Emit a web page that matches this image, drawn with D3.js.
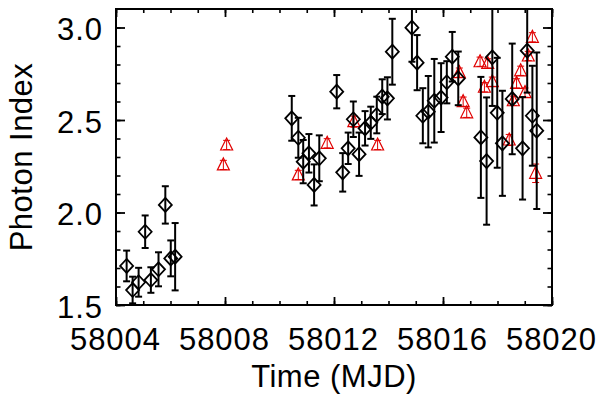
<!DOCTYPE html>
<html>
<head>
<meta charset="utf-8">
<script src="https://cdn.jsdelivr.net/npm/d3@7"></script>
<style>
  html, body { margin: 0; padding: 0; background: #fff; }
  svg { display: block; }
  text { font-family: "Liberation Sans", Arial, sans-serif; fill: #000; }
</style>
</head>
<body>
<div id="chart"></div>
<script>
// ---- Data ----
const diamondTime = [
  58004.39, 58004.61, 58004.83, 58005.07, 58005.28, 58005.56, 58005.81, 58006.01, 58006.17,
  58010.45, 58010.69, 58010.87, 58011.08, 58011.27, 58011.46, 58012.10, 58012.32, 58012.52,
  58012.71, 58012.92, 58013.14, 58013.35, 58013.57, 58013.77, 58013.96, 58014.14, 58014.86,
  58015.05, 58015.26, 58015.46, 58015.68, 58015.93, 58016.14, 58016.34, 58016.56,
  58017.39, 58017.60, 58017.81, 58017.99, 58018.18, 58018.54, 58018.92, 58019.09, 58019.28, 58019.44
];
const diamondIndex = [
  1.711, 1.581, 1.623, 1.896, 1.635, 1.693, 2.041, 1.752, 1.761,
  2.509, 2.404, 2.275, 2.320, 2.149, 2.293, 2.653, 2.217, 2.347,
  2.504, 2.315, 2.455, 2.485, 2.527, 2.626, 2.617, 2.869, 2.999,
  2.810, 2.523, 2.545, 2.604, 2.621, 2.704, 2.842, 2.725,
  2.406, 2.278, 2.839, 2.539, 2.374, 2.614, 2.347, 2.875, 2.523, 2.442
];
const diamondError = [
  0.083, 0.072, 0.078, 0.088, 0.069, 0.092, 0.101, 0.097, 0.182,
  0.121, 0.108, 0.117, 0.104, 0.111, 0.124, 0.090, 0.104, 0.085,
  0.096, 0.117, 0.093, 0.087, 0.099, 0.094, 0.114, 0.178, 0.184,
  0.149, 0.149, 0.193, 0.226, 0.186, 0.114, 0.134, 0.145,
  0.327, 0.344, 0.263, 0.297, 0.284, 0.299, 0.277, 0.227, 0.270, 0.423
];

const triangleTime = [
  58007.94, 58008.06, 58010.69, 58011.75, 58012.73, 58013.60,
  58016.60, 58016.74, 58016.87, 58017.36, 58017.64, 58017.52, 58017.81,
  58018.43, 58018.58, 58018.70, 58018.85, 58019.01, 58019.13, 58019.28, 58019.40
];
const triangleIndex = [
  2.257, 2.365, 2.203, 2.374, 2.491, 2.365,
  2.756, 2.599, 2.539, 2.815, 2.806, 2.677, 2.707,
  2.392, 2.604, 2.698, 2.766, 2.648, 2.846, 2.947, 2.212
];
const triangleError = [
  0.025, 0.025, 0.025, 0.025, 0.03, 0.025,
  0.025, 0.025, 0.025, 0.025, 0.025, 0.025, 0.025,
  0.03, 0.025, 0.025, 0.025, 0.025, 0.025, 0.025, 0.05
];

const xDomain = [58004, 58020];
const yDomain = [1.5, 3.1];
const xMajorTicks = [58004, 58008, 58012, 58016, 58020];
const yMajorTicks = [1.5, 2.0, 2.5, 3.0];
const xTitle = "Time (MJD)";
const yTitle = "Photon Index";

// ---- Layout ----
const W = 600, H = 396;
const L = 116, R = 552, T = 9, B = 305;
const FS = 31;

const svg = d3.select("#chart").append("svg")
  .attr("width", W).attr("height", H)
  .attr("viewBox", `0 0 ${W} ${H}`);
svg.append("rect").attr("width", W).attr("height", H).attr("fill", "#fff");

const x = d3.scaleLinear().domain(xDomain).range([L, R]);
const y = d3.scaleLinear().domain(yDomain).range([B, T]);

svg.append("defs").append("clipPath").attr("id", "plotclip")
  .append("rect").attr("x", L).attr("y", T).attr("width", R - L).attr("height", B - T);

const xMinor = d3.range(xDomain[0], xDomain[1] + 0.001, 1);
const yMinor = d3.range(15, 31, 1).map(v => v / 10);

function axisGroup(axisFn, scale, transform, major, minor, majLen, minLen, labels) {
  const gMin = svg.append("g").attr("transform", transform)
    .call(axisFn(scale).tickValues(minor).tickSize(minLen).tickFormat(""));
  gMin.select(".domain").remove();
  gMin.selectAll("line").attr("stroke", "#000").attr("stroke-width", 1.6);
  const g = svg.append("g").attr("transform", transform)
    .call(axisFn(scale).tickValues(major).tickSize(majLen).tickSizeOuter(0)
      .tickFormat(labels ? labels : ""));
  g.select(".domain").remove();
  g.selectAll("line").attr("stroke", "#000").attr("stroke-width", 1.8);
  return g;
}

const gb = axisGroup(d3.axisTop, x, `translate(0,${B})`, xMajorTicks, xMinor, 8, 4, d3.format("d"));
gb.selectAll("text")
  .attr("y", 45).attr("dy", 0)
  .attr("font-size", FS).attr("letter-spacing", 1).attr("text-anchor", "middle")
  .attr("dx", -1);
axisGroup(d3.axisBottom, x, `translate(0,${T})`, xMajorTicks, xMinor, 8, 4, null)
  .selectAll("text").remove();
const gl = axisGroup(d3.axisRight, y, `translate(${L},0)`, yMajorTicks, yMinor, 9, 4.5, d3.format(".1f"));
gl.selectAll("text")
  .attr("x", -13).attr("dy", "0.4em")
  .attr("font-size", FS).attr("letter-spacing", 1).attr("text-anchor", "end");
axisGroup(d3.axisLeft, y, `translate(${R},0)`, yMajorTicks, yMinor, 9, 4.5, null)
  .selectAll("text").remove();

svg.append("rect").attr("x", L).attr("y", T).attr("width", R - L).attr("height", B - T)
  .attr("fill", "none").attr("stroke", "#000").attr("stroke-width", 2);

svg.append("text").attr("x", (L + R) / 2).attr("y", 387)
  .attr("text-anchor", "middle").attr("font-size", FS).attr("letter-spacing", 0.5).text(xTitle);
svg.append("text")
  .attr("transform", `translate(32,${(T + B) / 2}) rotate(-90)`)
  .attr("text-anchor", "middle").attr("font-size", FS).attr("letter-spacing", 0.5).text(yTitle);

// ---- Marks ----
const plot = svg.append("g").attr("clip-path", "url(#plotclip)");

const diamonds = diamondTime.map((t, i) => ({ t, v: diamondIndex[i], e: diamondError[i] }));
const triangles = triangleTime.map((t, i) => ({ t, v: triangleIndex[i], e: triangleError[i] }));

function errorBars(data, color, capW, sw) {
  const g = plot.append("g").attr("stroke", color).attr("stroke-width", sw).attr("fill", "none");
  g.selectAll("line.v").data(data).join("line")
    .attr("x1", d => x(d.t)).attr("x2", d => x(d.t))
    .attr("y1", d => y(d.v + d.e)).attr("y2", d => y(d.v - d.e));
  g.selectAll("line.top").data(data).join("line").attr("class", "top")
    .attr("x1", d => x(d.t) - capW).attr("x2", d => x(d.t) + capW)
    .attr("y1", d => y(d.v + d.e)).attr("y2", d => y(d.v + d.e));
  g.selectAll("line.bot").data(data).join("line").attr("class", "bot")
    .attr("x1", d => x(d.t) - capW).attr("x2", d => x(d.t) + capW)
    .attr("y1", d => y(d.v - d.e)).attr("y2", d => y(d.v - d.e));
}

errorBars(triangles, "#e00000", 3.5, 1);
plot.append("g").selectAll("path").data(triangles).join("path")
  .attr("d", d => {
    const cx = x(d.t), cy = y(d.v);
    return `M${cx},${cy - 7}L${cx + 6},${cy + 5}L${cx - 6},${cy + 5}Z`;
  })
  .attr("fill", "none").attr("stroke", "#e00000").attr("stroke-width", 1.2);

errorBars(diamonds, "#000", 3.5, 2);
plot.append("g").selectAll("path").data(diamonds).join("path")
  .attr("d", d => {
    const cx = x(d.t), cy = y(d.v);
    return `M${cx},${cy - 7}L${cx + 6.5},${cy}L${cx},${cy + 7}L${cx - 6.5},${cy}Z`;
  })
  .attr("fill", "none").attr("stroke", "#000").attr("stroke-width", 1.8);
</script>
</body>
</html>
